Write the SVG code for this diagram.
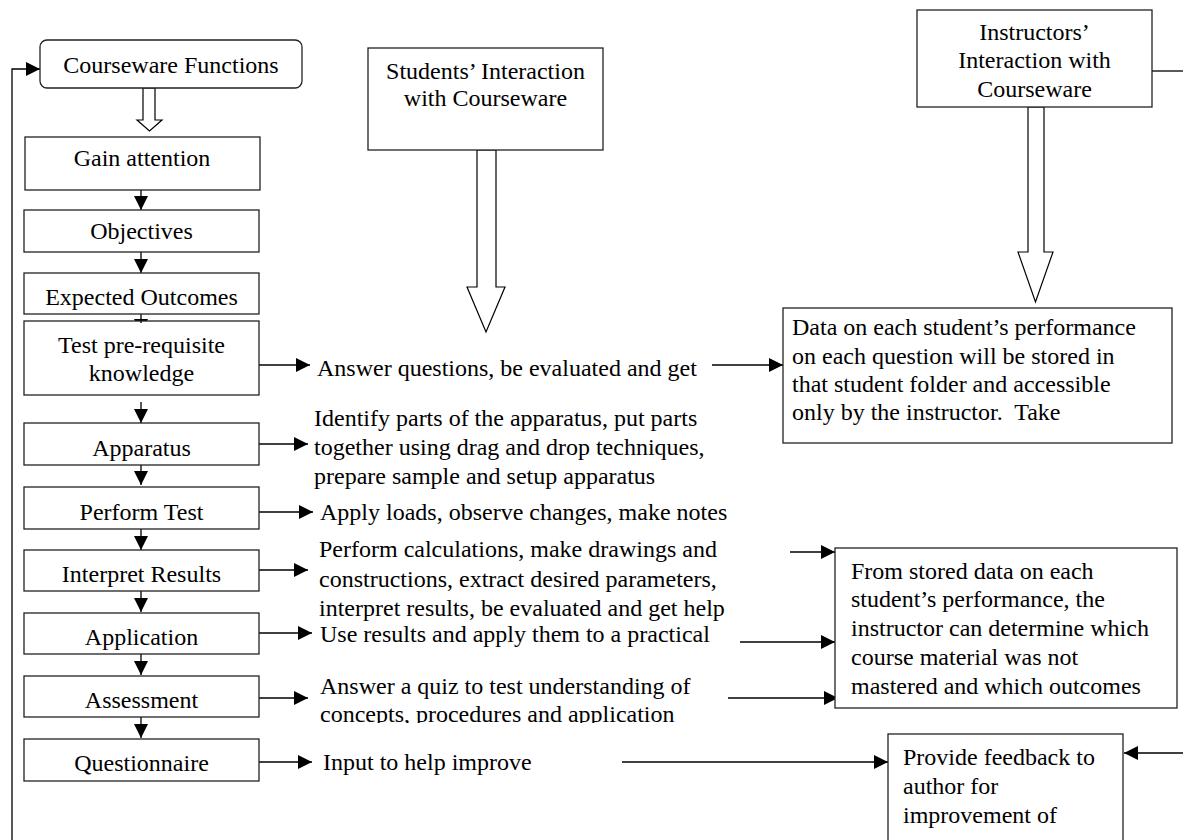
<svg xmlns="http://www.w3.org/2000/svg" width="1183" height="840" viewBox="0 0 1183 840">
<defs>
<style>
.t{font-family:"Liberation Serif","Times New Roman",serif;font-size:24px;fill:#000}
.c{text-anchor:middle}
.b{fill:#fff;stroke:#222;stroke-width:1.3}
.ln{fill:none;stroke:#000;stroke-width:1.3}
.ho{fill:#fff;stroke:#000;stroke-width:1.2}
</style>
<marker id="ah" viewBox="0 0 14 14" refX="14" refY="7" markerWidth="14" markerHeight="14" markerUnits="userSpaceOnUse" orient="auto">
<path d="M0,0 L14,7 L0,14 z" fill="#000"/>
</marker>
<clipPath id="clipQuiz"><rect x="300" y="660" width="500" height="63"/></clipPath>
</defs>
<rect width="1183" height="840" fill="#fff"/>

<g id="connectors">
<polyline class="ln" points="12,840 12,69 40,69" marker-end="url(#ah)"/>
<path class="ho" d="M143,88 L155,88 L155,120 L162,120 L149.5,131 L137,120 L143,120 Z"/>
<path class="ho" d="M477,150 L496,150 L496,287 L505,287 L486,332 L467,287 L477,287 Z"/>
<path class="ho" d="M1028,107 L1044,107 L1044,252 L1053,252 L1035.5,302 L1018,252 L1028,252 Z"/>
<line class="ln" x1="141" y1="190" x2="141" y2="210" marker-end="url(#ah)"/>
<line class="ln" x1="141" y1="252" x2="141" y2="273" marker-end="url(#ah)"/>
<line class="ln" x1="141" y1="314" x2="141" y2="333" marker-end="url(#ah)"/>
<line class="ln" x1="141" y1="402" x2="141" y2="423" marker-end="url(#ah)"/>
<line class="ln" x1="141" y1="464" x2="141" y2="485" marker-end="url(#ah)"/>
<line class="ln" x1="141" y1="529" x2="141" y2="550" marker-end="url(#ah)"/>
<line class="ln" x1="141" y1="591" x2="141" y2="612" marker-end="url(#ah)"/>
<line class="ln" x1="141" y1="654" x2="141" y2="675" marker-end="url(#ah)"/>
<line class="ln" x1="141" y1="717" x2="141" y2="738" marker-end="url(#ah)"/>
<line class="ln" x1="259" y1="365" x2="310" y2="365" marker-end="url(#ah)"/>
<line class="ln" x1="259" y1="444" x2="308" y2="444" marker-end="url(#ah)"/>
<line class="ln" x1="259" y1="512" x2="313" y2="512" marker-end="url(#ah)"/>
<line class="ln" x1="259" y1="570" x2="308" y2="570" marker-end="url(#ah)"/>
<line class="ln" x1="259" y1="633" x2="312" y2="633" marker-end="url(#ah)"/>
<line class="ln" x1="259" y1="698" x2="308" y2="698" marker-end="url(#ah)"/>
<line class="ln" x1="259" y1="762" x2="312" y2="762" marker-end="url(#ah)"/>
<line class="ln" x1="712" y1="365" x2="783" y2="365" marker-end="url(#ah)"/>
<line class="ln" x1="790" y1="552" x2="835" y2="552" marker-end="url(#ah)"/>
<line class="ln" x1="740" y1="642" x2="835" y2="642" marker-end="url(#ah)"/>
<line class="ln" x1="728" y1="698" x2="838" y2="698" marker-end="url(#ah)"/>
<line class="ln" x1="622" y1="762" x2="888" y2="762" marker-end="url(#ah)"/>
<line class="ln" x1="1183" y1="753" x2="1124" y2="753" marker-end="url(#ah)"/>
<line class="ln" x1="1152" y1="71" x2="1183" y2="71"/>
</g>

<g id="courseware-functions">
<rect class="b" x="40" y="40" width="262" height="48" rx="7"/>
<text class="t c" x="171" y="73">Courseware Functions</text>
</g>
<g id="gain-attention">
<rect class="b" x="25" y="137" width="235" height="53"/>
<text class="t c" x="142" y="166">Gain attention</text>
</g>
<g id="objectives">
<rect class="b" x="24" y="210" width="235" height="42"/>
<text class="t c" x="141.5" y="239">Objectives</text>
</g>
<g id="expected-outcomes">
<rect class="b" x="24" y="273" width="235" height="41"/>
<text class="t c" x="141.5" y="305">Expected Outcomes</text>
</g>
<g id="test-prerequisite">
<rect class="b" x="24" y="321" width="235" height="74"/>
<text class="t c" x="141.5" y="353">Test pre-requisite</text>
<text class="t c" x="141.5" y="381">knowledge</text>
</g>
<line class="ln" x1="141" y1="321" x2="141" y2="323"/>
<g id="apparatus">
<rect class="b" x="24" y="423" width="235" height="42"/>
<text class="t c" x="141.5" y="456">Apparatus</text>
</g>
<g id="perform-test">
<rect class="b" x="24" y="487" width="235" height="42"/>
<text class="t c" x="141.5" y="520">Perform Test</text>
</g>
<g id="interpret-results">
<rect class="b" x="24" y="550" width="235" height="41"/>
<text class="t c" x="141.5" y="582">Interpret Results</text>
</g>
<g id="application">
<rect class="b" x="24" y="613" width="235" height="41"/>
<text class="t c" x="141.5" y="645">Application</text>
</g>
<g id="assessment">
<rect class="b" x="24" y="676" width="235" height="41"/>
<text class="t c" x="141.5" y="708">Assessment</text>
</g>
<g id="questionnaire">
<rect class="b" x="24" y="739" width="235" height="42"/>
<text class="t c" x="141.5" y="771">Questionnaire</text>
</g>

<g id="students-interaction">
<rect class="b" x="368" y="48" width="235" height="102"/>
<text class="t c" x="485.5" y="79">Students’ Interaction</text>
<text class="t c" x="485.5" y="106">with Courseware</text>
</g>
<g id="instructors-interaction">
<rect class="b" x="917" y="10" width="235" height="97"/>
<text class="t c" x="1034.5" y="40">Instructors’</text>
<text class="t c" x="1034.5" y="68">Interaction with</text>
<text class="t c" x="1034.5" y="97">Courseware</text>
</g>

<g id="student-actions">
<text class="t" x="317" y="376">Answer questions, be evaluated and get</text>
<text class="t" x="314" y="426">Identify parts of the apparatus, put parts</text>
<text class="t" x="314" y="455">together using drag and drop techniques,</text>
<text class="t" x="314" y="484">prepare sample and setup apparatus</text>
<text class="t" x="320" y="520">Apply loads, observe changes, make notes</text>
<text class="t" x="319" y="557">Perform calculations, make drawings and</text>
<text class="t" x="319" y="587">constructions, extract desired parameters,</text>
<text class="t" x="319" y="616">interpret results, be evaluated and get help</text>
<text class="t" x="320" y="642">Use results and apply them to a practical</text>
<g clip-path="url(#clipQuiz)">
<text class="t" x="320" y="694">Answer a quiz to test understanding of</text>
<text class="t" x="320" y="722">concepts, procedures and application</text>
</g>
<text class="t" x="323" y="770">Input to help improve</text>
</g>

<g id="data-stored">
<rect class="b" x="783" y="308" width="389" height="135"/>
<text class="t" x="792" y="335">Data on each student’s performance</text>
<text class="t" x="792" y="364">on each question will be stored in</text>
<text class="t" x="792" y="392">that student folder and accessible</text>
<text class="t" x="792" y="420">only by the instructor.&#160; Take</text>
</g>
<g id="instructor-determine">
<rect class="b" x="835" y="548" width="342" height="160"/>
<text class="t" x="851" y="579">From stored data on each</text>
<text class="t" x="851" y="607">student’s performance, the</text>
<text class="t" x="851" y="636">instructor can determine which</text>
<text class="t" x="851" y="665">course material was not</text>
<text class="t" x="851" y="694">mastered and which outcomes</text>
</g>
<g id="provide-feedback">
<rect class="b" x="888" y="734" width="235" height="120"/>
<text class="t" x="903" y="765">Provide feedback to</text>
<text class="t" x="903" y="794">author for</text>
<text class="t" x="903" y="823">improvement of</text>
</g>
</svg>
